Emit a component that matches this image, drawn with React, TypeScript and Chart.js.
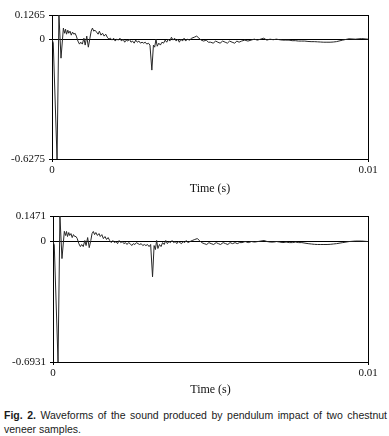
import React, { useEffect, useRef } from 'react';
import { Chart, registerables } from 'chart.js';

Chart.register(...registerables);

// Sample times (s), shared by both recordings
const timeS = [
  0, 0.00004, 0.00016, 0.00022, 0.000285, 0.00036, 0.0004, 0.00043, 0.00046, 0.0005,
  0.00053, 0.00057, 0.00061, 0.00065, 0.00069, 0.00073, 0.00077, 0.00082, 0.00087, 0.00091,
  0.00096, 0.00101, 0.00105, 0.0011, 0.00115, 0.0012, 0.00124, 0.00128, 0.00132, 0.00136,
  0.00141, 0.00146, 0.0015, 0.00155, 0.0016, 0.00165, 0.0017, 0.00175, 0.0018, 0.00185,
  0.0019, 0.00195, 0.002, 0.00205, 0.0021, 0.00215, 0.0022, 0.00225, 0.0023, 0.00235,
  0.0024, 0.00245, 0.0025, 0.00255, 0.0026, 0.00265, 0.0027, 0.00275, 0.0028, 0.00285,
  0.0029, 0.00295, 0.003, 0.00305, 0.0031, 0.00316, 0.00321, 0.00325, 0.00329, 0.00333,
  0.00338, 0.00343, 0.00348, 0.00353, 0.00358, 0.00363, 0.00368, 0.00373, 0.00378, 0.00383,
  0.00388, 0.00393, 0.00398, 0.00403, 0.00408, 0.00413, 0.00418, 0.00423, 0.00428, 0.00435,
  0.00442, 0.0045, 0.00458, 0.00465, 0.00472, 0.0048, 0.00488, 0.00495, 0.00502, 0.0051,
  0.00518, 0.00525, 0.00532, 0.0054, 0.00548, 0.00555, 0.00562, 0.0057, 0.00578, 0.00585,
  0.00592, 0.006, 0.0061, 0.0062, 0.0063, 0.0064, 0.0065, 0.0066, 0.0067, 0.0068,
  0.0069, 0.007, 0.0071, 0.0072, 0.0073, 0.0074, 0.0075, 0.0076, 0.0077, 0.0078,
  0.0079, 0.008, 0.0081, 0.0082, 0.0083, 0.0084, 0.0085, 0.0086, 0.0087, 0.0088,
  0.0089, 0.009, 0.0092, 0.0094, 0.0096, 0.0098, 0.01,
];

// Sample 1 amplitude
const amplitude1 = [
  0, -0.02, -0.6275, 0.1265, -0.0995, 0.058, 0.031, 0.052, 0.026, 0.047,
  0.031, 0.042, 0.021, 0.037, 0.026, 0.031, 0.016, -0.010, -0.026, -0.016,
  -0.026, 0.005, -0.031, 0.016, -0.042, 0.005, 0.042, 0.058, 0.042, 0.047,
  0.037, 0.026, 0.042, 0.021, 0.031, 0.016, 0.026, 0.010, 0, 0.005,
  -0.005, 0.005, -0.010, 0, -0.005, 0.005, -0.010, 0, -0.016, -0.005,
  -0.010, 0, -0.016, -0.010, -0.021, -0.005, -0.016, -0.010, -0.021, -0.016,
  -0.021, -0.016, -0.026, -0.021, -0.031, -0.162, -0.031, -0.042, 0, -0.037,
  -0.021, -0.031, -0.016, -0.021, -0.005, -0.016, 0, -0.010, 0.010, -0.005,
  0.005, -0.010, 0, -0.016, 0, -0.010, 0.005, -0.010, 0, -0.005,
  0.005, 0.010, 0.016, 0.005, -0.005, -0.010, -0.005, -0.016, -0.016, -0.021,
  -0.010, -0.016, -0.021, -0.010, -0.016, -0.021, -0.010, -0.016, -0.021, -0.010,
  -0.016, -0.010, -0.005, -0.010, -0.005, 0, -0.005, 0, 0.005, -0.005,
  0, -0.003, 0, -0.003, -0.005, -0.005, -0.005, -0.008, -0.008, -0.010,
  -0.010, -0.010, -0.012, -0.013, -0.013, -0.014, -0.015, -0.016, -0.016, -0.016,
  -0.015, -0.013, -0.005, 0.002, 0, 0.003, 0,
];

// Sample 2 amplitude
const amplitude2 = [
  0, -0.02, -0.6931, 0.1471, -0.098, 0.059, 0.035, 0.058, 0.029, 0.052,
  0.035, 0.046, 0.023, 0.040, 0.029, 0.029, 0.017, -0.012, -0.029, -0.017,
  -0.029, 0.006, -0.023, 0.023, -0.035, 0.006, 0.046, 0.058, 0.040, 0.052,
  0.035, 0.046, 0.029, 0.040, 0.017, 0.029, 0.012, 0.023, 0.006, -0.006,
  0.006, -0.006, 0, -0.012, 0.006, -0.006, 0, -0.012, -0.006, -0.017,
  -0.006, -0.012, -0.023, -0.012, -0.017, -0.006, -0.012, -0.017, -0.012, -0.023,
  -0.017, -0.023, -0.017, -0.029, -0.017, -0.203, -0.023, -0.046, 0.006, -0.040,
  -0.017, -0.029, -0.006, -0.017, 0.006, -0.012, 0, -0.006, 0.006, -0.006,
  0, -0.012, 0, -0.006, -0.012, 0, -0.006, 0.006, -0.006, 0,
  0.006, 0.012, 0.017, 0.006, -0.006, -0.012, -0.017, -0.006, -0.012, -0.017,
  -0.006, -0.012, -0.017, -0.006, -0.012, -0.017, -0.006, -0.012, -0.006, -0.012,
  -0.006, -0.006, 0, -0.006, 0, -0.003, 0, 0.003, 0.006, 0,
  -0.003, -0.003, 0, -0.003, -0.006, -0.003, -0.006, -0.006, -0.003, -0.006,
  -0.006, -0.009, -0.012, -0.014, -0.016, -0.017, -0.017, -0.017, -0.017, -0.016,
  -0.014, -0.012, -0.006, 0, 0.003, 0.003, 0,
];

const yTicks1 = [-0.6275, 0, 0.1265];
const yTickLabels1 = ['-0.6275', '0', '0.1265'];
const yTicks2 = [-0.6931, 0, 0.1471];
const yTickLabels2 = ['-0.6931', '0', '0.1471'];
const xTicks = [0, 0.01];
const xTickLabels = ['0', '0.01'];
const xTitle = 'Time (s)';

type WaveProps = {
  values: number[];
  yTicks: number[];
  yLabels: string[];
  padTop: number;
  yAxisWidth: number;
  xAxisHeight: number;
};

function Waveform({ values, yTicks, yLabels, padTop, yAxisWidth, xAxisHeight }: WaveProps) {
  const ref = useRef<HTMLCanvasElement | null>(null);
  useEffect(() => {
    if (!ref.current) return;
    const serif = '"Liberation Serif", "DejaVu Serif", serif';
    const chart = new Chart(ref.current, {
      type: 'line',
      data: {
        datasets: [
          {
            data: timeS.map((t, i) => ({ x: t, y: values[i] })),
            borderColor: '#262626',
            borderWidth: 1,
            pointRadius: 0,
            tension: 0,
            fill: false,
          },
        ],
      },
      options: {
        animation: false,
        responsive: true,
        maintainAspectRatio: false,
        layout: { padding: { top: padTop, right: 21, left: 0, bottom: 0 } },
        plugins: { legend: { display: false }, tooltip: { enabled: false } },
        scales: {
          x: {
            type: 'linear',
            min: xTicks[0],
            max: xTicks[xTicks.length - 1],
            afterBuildTicks: (s: any) => {
              s.ticks = xTicks.map((v) => ({ value: v }));
            },
            afterFit: (s: any) => {
              s.height = xAxisHeight;
            },
            ticks: {
              autoSkip: false,
              maxRotation: 0,
              padding: 2,
              color: '#111',
              font: { family: serif, size: 11 },
              callback: (v: any) => xTickLabels[xTicks.indexOf(Number(v))] ?? '',
            },
            grid: { color: '#000', lineWidth: 1, tickLength: 3, drawOnChartArea: true },
            border: { color: '#000', width: 1 },
            title: {
              display: true,
              text: xTitle,
              color: '#111',
              font: { family: serif, size: 12 },
              padding: { top: 0, bottom: 0 },
            },
          },
          y: {
            type: 'linear',
            min: yTicks[0],
            max: yTicks[yTicks.length - 1],
            afterBuildTicks: (s: any) => {
              s.ticks = yTicks.map((v) => ({ value: v }));
            },
            afterFit: (s: any) => {
              s.width = yAxisWidth;
            },
            ticks: {
              autoSkip: false,
              padding: 4,
              color: '#111',
              font: { family: serif, size: 11 },
              callback: (v: any) => yLabels[yTicks.indexOf(Number(v))] ?? '',
            },
            grid: { color: '#000', lineWidth: 1, tickLength: 3, drawOnChartArea: true },
            border: { color: '#000', width: 1 },
          },
        },
      },
    });
    return () => chart.destroy();
  }, [values, yTicks, yLabels, padTop, yAxisWidth, xAxisHeight]);
  return <canvas ref={ref} />;
}

export default function App() {
  return (
    <div style={{ position: 'absolute', left: 0, top: 0, width: 389, height: 436, background: '#fff', overflow: 'hidden' }}>
      <div style={{ position: 'absolute', left: 0, top: 0, width: 389, height: 196 }}>
        <Waveform values={amplitude1} yTicks={yTicks1} yLabels={yTickLabels1} padTop={15} yAxisWidth={52} xAxisHeight={37} />
      </div>
      <div style={{ position: 'absolute', left: 0, top: 200, width: 389, height: 197 }}>
        <Waveform values={amplitude2} yTicks={yTicks2} yLabels={yTickLabels2} padTop={16} yAxisWidth={53} xAxisHeight={35} />
      </div>
      <div
        style={{
          position: 'absolute',
          left: 4,
          top: 409,
          width: 383,
          fontFamily: '"Liberation Sans", Arial, sans-serif',
          fontSize: 10.5,
          lineHeight: '13.5px',
          color: '#1a1a1a',
          textAlign: 'justify',
        }}
      >
        <b>Fig. 2.</b> Waveforms of the sound produced by pendulum impact of two chestnut veneer samples.
      </div>
    </div>
  );
}
